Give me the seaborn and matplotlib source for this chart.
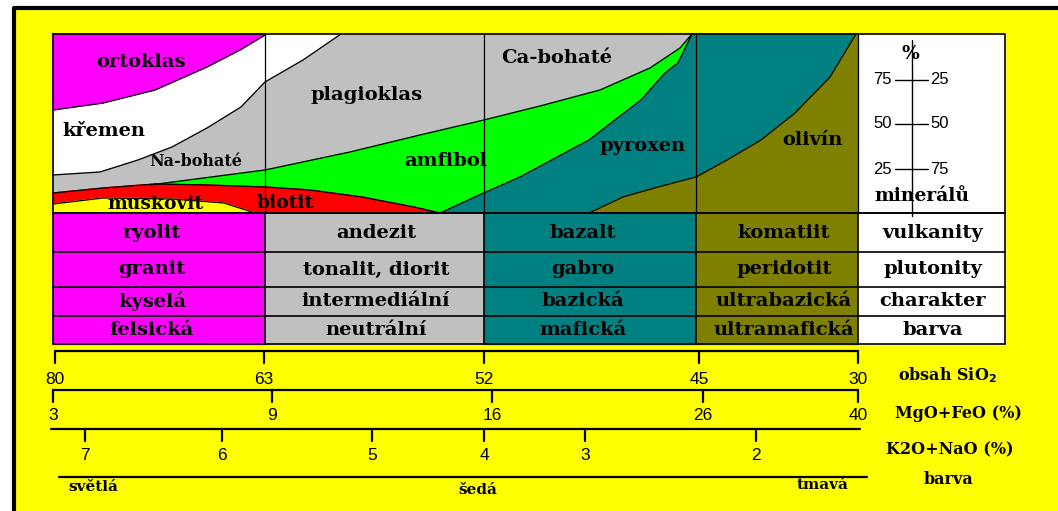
import matplotlib
matplotlib.use("Agg")
import matplotlib.pyplot as plt
import seaborn as sns

sns.set_theme(style="white")
plt.rcParams["font.family"] = ["DejaVu Serif"]
plt.rcParams["text.color"] = "black"

# --- rozvrzeni diagramu (px) ---
col_edges = [53, 265, 484, 696, 858, 1005]
row_edges = [213, 252, 287, 316, 344]
top_y = 34

# --- hranice mineralu (x, y) ---
ortoklas_x = [53, 103, 155, 207, 240, 265]
ortoklas_y = [110, 103, 90, 67, 50, 35]
kremen_x = [53, 100, 138, 172, 207, 241, 265, 303, 341]
kremen_y = [175, 172, 160, 147, 128, 107, 82, 60, 34]
amfibol_top_x = [150, 265, 350, 420, 484, 540, 600, 650, 680, 692]
amfibol_top_y = [185, 170, 152, 135, 120, 106, 90, 68, 48, 34]
pyroxen_top_x = [440, 486, 520, 589, 641, 665, 678, 692]
pyroxen_top_y = [213, 192, 177, 140, 100, 73, 63, 34]
olivin_top_x = [589, 623, 658, 696, 727, 761, 795, 830, 856]
olivin_top_y = [213, 197, 187, 177, 160, 140, 113, 77, 34]
biotit_top_x = [53, 103, 155, 207, 265, 310, 362, 414, 440]
biotit_top_y = [193, 188, 184, 185, 187, 190, 197, 207, 213]
muskovit_top_x = [53, 103, 172, 224, 255]
muskovit_top_y = [204, 198, 199, 203, 213]

# --- tabulka hornin ---
table_rows = [
    ["ryolit", "andezit", "bazalt", "komatiit", "vulkanity"],
    ["granit", "tonalit, diorit", "gabro", "peridotit", "plutonity"],
    ["kyselá", "intermediální", "bazická", "ultrabazická", "charakter"],
    ["felsická", "neutrální", "mafická", "ultramafická", "barva"],
]
col_colors = ["#FF00FF", "#C0C0C0", "#008080", "#808000", "#FFFFFF"]

# --- stupnice ---
sio2_labels = [80, 63, 52, 45, 30]
sio2_pos = [55, 264, 484, 699, 858]
mgo_labels = [3, 9, 16, 26, 40]
mgo_pos = [53, 272, 492, 703, 858]
k2o_labels = [7, 6, 5, 4, 3, 2]
k2o_pos = [85, 222, 372, 484, 585, 756]
pct_left = [75, 50, 25]
pct_right = [25, 50, 75]
pct_y = [80, 124, 169]

fig = plt.figure(figsize=(10.58, 5.11), dpi=100)
fig.patch.set_facecolor("white")
ax = fig.add_axes([0, 0, 1, 1])
ax.set_xlim(0, 1058)
ax.set_ylim(511, 0)
ax.axis("off")

# pozadi
ax.fill([14, 1058, 1058, 14], [8, 8, 511, 511], color="#FFFF00", zorder=0)
ax.plot([14, 14, 1058], [511, 8, 8], color="black", lw=3, zorder=1)

x0, x4, x5 = col_edges[0], col_edges[4], col_edges[5]
yb = row_edges[0]

# pole mineralu
ax.fill([x0, x5, x5, x0], [top_y, top_y, yb, yb], color="white", zorder=1)
ax.fill([x0, 265] + ortoklas_x[::-1], [top_y, top_y] + ortoklas_y[::-1],
        color="#FF00FF", zorder=2)
ax.fill(kremen_x + [x4, x4, x0], kremen_y + [top_y, yb, yb],
        color="#C0C0C0", zorder=2)
ax.fill(amfibol_top_x + [692, amfibol_top_x[0]], amfibol_top_y + [yb, yb],
        color="#00FF00", zorder=3)
ax.fill(pyroxen_top_x + [856] + olivin_top_x[::-1],
        pyroxen_top_y + [top_y] + olivin_top_y[::-1], color="#008080", zorder=4)
ax.fill(olivin_top_x + [x4, x4], olivin_top_y + [top_y, yb],
        color="#808000", zorder=4)
ax.fill(biotit_top_x + [x0], biotit_top_y + [yb], color="#FF0000", zorder=5)
ax.fill(muskovit_top_x + [x0], muskovit_top_y + [yb], color="#FFFF00", zorder=6)

for bx, by in [(ortoklas_x, ortoklas_y), (kremen_x, kremen_y),
               (amfibol_top_x, amfibol_top_y), (pyroxen_top_x, pyroxen_top_y),
               (olivin_top_x, olivin_top_y), (biotit_top_x, biotit_top_y),
               (muskovit_top_x, muskovit_top_y)]:
    sns.lineplot(x=bx, y=by, sort=False, estimator=None, color="black",
                 lw=0.9, ax=ax, zorder=7)

for cx in col_edges[1:5]:
    ax.plot([cx, cx], [top_y, yb], color="black", lw=0.9, zorder=8)

# tabulka
for i, color in enumerate(col_colors):
    ax.fill([col_edges[i], col_edges[i + 1], col_edges[i + 1], col_edges[i]],
            [row_edges[0], row_edges[0], row_edges[-1], row_edges[-1]],
            color=color, zorder=1)
for ry in row_edges:
    ax.plot([x0, x5], [ry, ry], color="black", lw=1.2, zorder=8)
for cx in col_edges:
    ax.plot([cx, cx], [row_edges[0], row_edges[-1]], color="black", lw=1.2, zorder=8)
ax.plot([x0, x5, x5, x0, x0], [top_y, top_y, yb, yb, top_y], color="black",
        lw=1.2, zorder=8)

col_centers = [152, 376, 583, 784, 933]
for r, row in enumerate(table_rows):
    yc = (row_edges[r] + row_edges[r + 1]) / 2
    for c, txt in enumerate(row):
        ax.text(col_centers[c], yc, txt, ha="center", va="center",
                fontsize=14, fontweight="bold", color="black", zorder=9)

# popisky mineralu
minerals = [("ortoklas", 141, 62, 14), ("plagioklas", 367, 95, 14),
            ("Ca-bohaté", 557, 58, 14), ("křemen", 104, 131, 14),
            ("Na-bohaté", 196, 162, 11.5), ("amfibol", 446, 161, 14),
            ("pyroxen", 643, 146, 14), ("olivín", 812, 140, 14),
            ("muskovit", 155, 204, 13.5), ("biotit", 285, 203, 13.5)]
for txt, tx, ty, fs in minerals:
    ax.text(tx, ty, txt, ha="center", va="center", fontsize=fs,
            fontweight="bold", color="black", zorder=9)

# stupnice procent
ax.plot([912, 912], [40, 216], color="black", lw=1, zorder=9)
for yl, yr, py in zip(pct_left, pct_right, pct_y):
    ax.plot([895, 928], [py, py], color="black", lw=1, zorder=9)
    ax.text(892, py, str(yl), ha="right", va="center", fontsize=12,
            family="Liberation Sans", zorder=9)
    ax.text(930, py, str(yr), ha="left", va="center", fontsize=12,
            family="Liberation Sans", zorder=9)
ax.text(910, 54, "%", ha="center", va="center", fontsize=13.5,
        fontweight="bold", zorder=9)
ax.text(922, 196, "minerálů", ha="center", va="center", fontsize=13.5,
        fontweight="bold", zorder=9)

# osy
def draw_scale(y, x_start, x_end, ticks, labels, label_y):
    ax.plot([x_start, x_end], [y, y], color="black", lw=1.6, zorder=5)
    for tx, lab in zip(ticks, labels):
        ax.plot([tx, tx], [y, y + 12], color="black", lw=1.6, zorder=5)
        ax.text(tx, label_y, str(lab), ha="center", va="center",
                fontsize=12.5, family="Liberation Sans", zorder=5)

draw_scale(351, 55, 858, sio2_pos, sio2_labels, 379)
draw_scale(390, 53, 858, mgo_pos, mgo_labels, 416)
draw_scale(429, 51, 860, k2o_pos, k2o_labels, 455)
ax.plot([59, 867], [477, 477], color="black", lw=1.6, zorder=5)

for txt, tx, ty in [("světlá", 93, 487), ("šedá", 478, 490), ("tmavá", 823, 485)]:
    ax.text(tx, ty, txt, ha="center", va="center", fontsize=11,
            fontweight="bold", zorder=5)

ax.text(947, 375, "obsah SiO$_\\mathbf{2}$", ha="center", va="center",
        fontsize=11.5, fontweight="bold", zorder=5)
ax.text(958, 413, "MgO+FeO (%)", ha="center", va="center", fontsize=11.5,
        fontweight="bold", zorder=5)
ax.text(950, 450, "K2O+NaO (%)", ha="center", va="center", fontsize=11.5,
        fontweight="bold", zorder=5)
ax.text(948, 480, "barva", ha="center", va="center", fontsize=11.5,
        fontweight="bold", zorder=5)

fig.savefig("out.png", dpi=100, facecolor=fig.get_facecolor())
